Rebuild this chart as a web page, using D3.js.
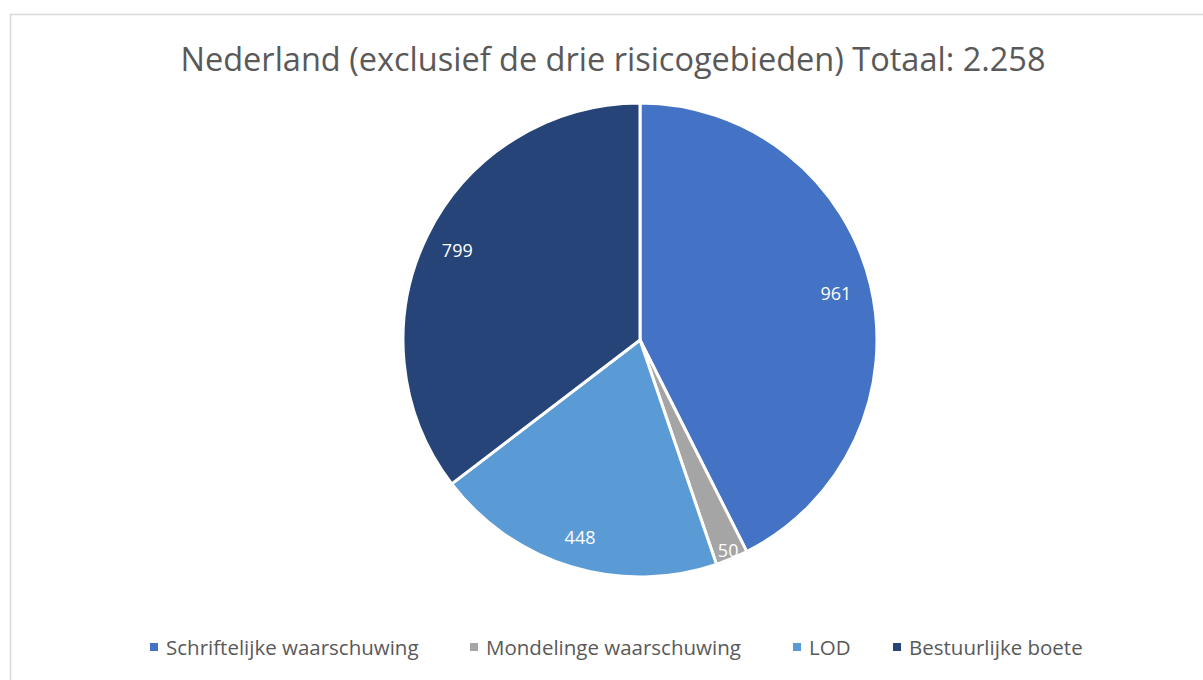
<!DOCTYPE html>
<meta charset="utf-8">
<html>
<head>
  <script src="https://cdn.jsdelivr.net/npm/d3@7"></script>
</head>
<style>
body { margin: 0; background: white; }
text { font-family: "Open Sans", sans-serif; }
</style>
<body>
<div id="container"></div>
<script>
var categories = ["Schriftelijke waarschuwing", "Mondelinge waarschuwing", "LOD", "Bestuurlijke boete"]
var values = [961, 50, 448, 799]
var colors = ["#4472C4", "#A5A5A5", "#5B9BD5", "#264478"]
var labelRadius = [0.85, 0.96, 0.87, 0.86]
var title = "Nederland (exclusief de drie risicogebieden) Totaal: 2.258"

var width = 1203, height = 680
var cx = 640, cy = 340, radius = 237

var svg = d3.select("#container").append("svg")
  .attr("width", width).attr("height", height)

svg.append("rect")
  .attr("x", 10.5).attr("y", 14.5)
  .attr("width", width).attr("height", height)
  .attr("fill", "white").attr("stroke", "#d9d9d9").attr("stroke-width", 1.5)

svg.append("text")
  .attr("x", 613).attr("y", 71)
  .attr("text-anchor", "middle")
  .attr("font-size", "32.5px")
  .attr("fill", "#595959")
  .text(title)

var pie = d3.pie().sort(null).value(d => d)
var arcs = pie(values)
var arc = d3.arc().innerRadius(0).outerRadius(radius)

var g = svg.append("g").attr("transform", "translate(" + cx + "," + cy + ")")

g.selectAll("path.slice")
  .data(arcs)
  .enter().append("path")
  .attr("class", "slice")
  .attr("d", arc)
  .attr("fill", (d, i) => colors[i])
  .attr("stroke", "white")
  .attr("stroke-width", 3)
  .attr("stroke-linejoin", "round")

g.selectAll("text.lbl")
  .data(arcs)
  .enter().append("text")
  .attr("class", "lbl")
  .attr("transform", function(d, i) {
    var r = radius * labelRadius[i]
    var la = d3.arc().innerRadius(r).outerRadius(r)
    return "translate(" + la.centroid(d) + ")"
  })
  .attr("text-anchor", "middle")
  .attr("dominant-baseline", "central")
  .attr("font-size", "18px")
  .attr("fill", "white")
  .text(d => d.data)

// legend
var legendX = [150, 470, 793, 893]
var legend = svg.append("g").attr("transform", "translate(0,647)")
legend.selectAll("rect")
  .data(categories)
  .enter().append("rect")
  .attr("x", (d, i) => legendX[i])
  .attr("y", -4)
  .attr("width", 8).attr("height", 8)
  .attr("fill", (d, i) => colors[i])
legend.selectAll("text")
  .data(categories)
  .enter().append("text")
  .attr("x", (d, i) => legendX[i] + 16)
  .attr("y", 0)
  .attr("dominant-baseline", "central")
  .attr("font-size", "20.5px")
  .attr("fill", "#595959")
  .text(d => d)
</script>
</body>
</html>
